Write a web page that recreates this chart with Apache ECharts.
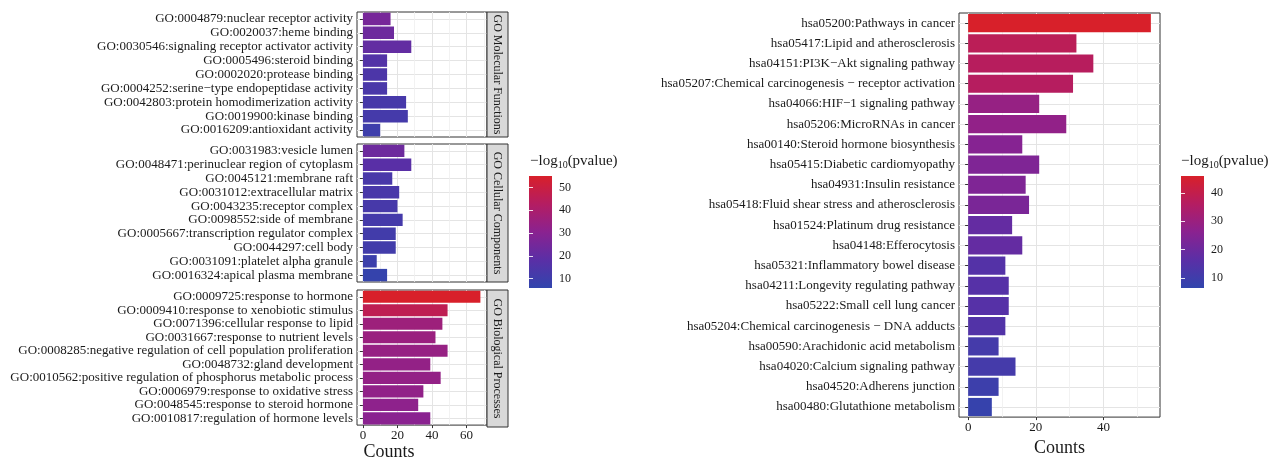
<!DOCTYPE html>
<html>
<head>
<meta charset="utf-8">
<script src="https://cdn.jsdelivr.net/npm/echarts@6/dist/echarts.min.js"></script>
<style>
  html, body { margin: 0; background: #fff; }
  #chart { width: 1272px; height: 462px; }
</style>
</head>
<body>
<div id="chart"></div>
<script>
// GO terms, one facet each
const mfTerms = [
  'GO:0004879:nuclear receptor activity',
  'GO:0020037:heme binding',
  'GO:0030546:signaling receptor activator activity',
  'GO:0005496:steroid binding',
  'GO:0002020:protease binding',
  'GO:0004252:serine\u2212type endopeptidase activity',
  'GO:0042803:protein homodimerization activity',
  'GO:0019900:kinase binding',
  'GO:0016209:antioxidant activity'
];
const mfCounts = [16, 18, 28, 14, 14, 14, 25, 26, 10];
const mfPvals = [25.5, 23, 20.5, 16, 14, 13.3, 12.5, 11.8, 9.8];

const ccTerms = [
  'GO:0031983:vesicle lumen',
  'GO:0048471:perinuclear region of cytoplasm',
  'GO:0045121:membrane raft',
  'GO:0031012:extracellular matrix',
  'GO:0043235:receptor complex',
  'GO:0098552:side of membrane',
  'GO:0005667:transcription regulator complex',
  'GO:0044297:cell body',
  'GO:0031091:platelet alpha granule',
  'GO:0016324:apical plasma membrane'
];
const ccCounts = [24, 28, 17, 21, 20, 23, 19, 19, 8, 14];
const ccPvals = [23, 18, 13, 13, 12.5, 12, 11, 11, 9.3, 7];

const bpTerms = [
  'GO:0009725:response to hormone',
  'GO:0009410:response to xenobiotic stimulus',
  'GO:0071396:cellular response to lipid',
  'GO:0031667:response to nutrient levels',
  'GO:0008285:negative regulation of cell population proliferation',
  'GO:0048732:gland development',
  'GO:0010562:positive regulation of phosphorus metabolic process',
  'GO:0006979:response to oxidative stress',
  'GO:0048545:response to steroid hormone',
  'GO:0010817:regulation of hormone levels'
];
const bpCounts = [68, 49, 46, 42, 49, 39, 45, 35, 32, 39];
const bpPvals = [55, 46, 36, 35, 34, 33, 33, 32.5, 31.5, 30.5];

// KEGG pathways
const keggTerms = [
  'hsa05200:Pathways in cancer',
  'hsa05417:Lipid and atherosclerosis',
  'hsa04151:PI3K\u2212Akt signaling pathway',
  'hsa05207:Chemical carcinogenesis \u2212 receptor activation',
  'hsa04066:HIF\u22121 signaling pathway',
  'hsa05206:MicroRNAs in cancer',
  'hsa00140:Steroid hormone biosynthesis',
  'hsa05415:Diabetic cardiomyopathy',
  'hsa04931:Insulin resistance',
  'hsa05418:Fluid shear stress and atherosclerosis',
  'hsa01524:Platinum drug resistance',
  'hsa04148:Efferocytosis',
  'hsa05321:Inflammatory bowel disease',
  'hsa04211:Longevity regulating pathway',
  'hsa05222:Small cell lung cancer',
  'hsa05204:Chemical carcinogenesis \u2212 DNA adducts',
  'hsa00590:Arachidonic acid metabolism',
  'hsa04020:Calcium signaling pathway',
  'hsa04520:Adherens junction',
  'hsa00480:Glutathione metabolism'
];
const keggCounts = [54, 32, 37, 31, 21, 29, 16, 21, 17, 18, 13, 16, 11, 12, 12, 11, 9, 14, 9, 7];
const keggPvals = [45.9, 38, 37, 36.5, 29, 28, 25.4, 24, 24, 23, 18.3, 18.3, 15, 15.5, 15.5, 14.4, 11.2, 11.2, 9.3, 7.7];

const goCountTicks = [0, 20, 40, 60];
const goMinorTicks = [10, 30, 50, 70];
const keggCountTicks = [0, 20, 40];
const keggMinorTicks = [10, 30, 50];
const goScaleTicks = [10, 20, 30, 40, 50];
const keggScaleTicks = [10, 20, 30, 40];

const goRange = [5.9, 55];
const keggRange = [6.5, 45.9];

const ramp = ['#3145ad', '#5a2fa6', '#8a2290', '#b41d62', '#d8202a'];
const serif = '"Liberation Serif", "DejaVu Serif", serif';
const ink = '#1a1a1a';
const gridLine = '#e4e4e4';

const rows = (terms, counts, pvals) => terms.map((t, i) => [counts[i], t, pvals[i]]);

const panels = [
  { left: 357, top: 12, width: 130, height: 125, terms: mfTerms, data: rows(mfTerms, mfCounts, mfPvals), strip: 'GO Molecular Functions' },
  { left: 357, top: 144, width: 130, height: 138, terms: ccTerms, data: rows(ccTerms, ccCounts, ccPvals), strip: 'GO Cellular Components' },
  { left: 357, top: 290, width: 130, height: 137, terms: bpTerms, data: rows(bpTerms, bpCounts, bpPvals), strip: 'GO Biological Processes' },
  { left: 959, top: 13, width: 201, height: 414, terms: keggTerms, data: rows(keggTerms, keggCounts, keggPvals) }
];

const chart = echarts.init(document.getElementById('chart'));

const grid = panels.map(p => ({
  left: p.left, top: p.top, width: p.width, height: p.height,
  show: true, borderColor: '#333', borderWidth: 1, backgroundColor: '#fff'
}));
// colour bars
const gradient = new echarts.graphic.LinearGradient(0, 0, 0, 1,
  ramp.slice().reverse().map((c, i) => ({ offset: i / (ramp.length - 1), color: c })));
grid.push({ left: 529, top: 176, width: 23, height: 112, show: true, borderWidth: 0, backgroundColor: gradient });
grid.push({ left: 1181, top: 176, width: 23, height: 112, show: true, borderWidth: 0, backgroundColor: gradient });

const xAxis = [];
const yAxis = [];
panels.forEach((p, i) => {
  const kegg = i === 3;
  const showLabels = i >= 2;
  xAxis.push({
    type: 'value', gridIndex: i,
    min: kegg ? -2.7 : -3.42, max: kegg ? 56.7 : 71.82,
    axisLine: { show: false },
    axisTick: { show: showLabels, length: 3, lineStyle: { color: '#333' }, customValues: kegg ? keggCountTicks : goCountTicks },
    axisLabel: { show: showLabels, color: ink, fontFamily: serif, fontSize: 13, margin: 4, customValues: kegg ? keggCountTicks : goCountTicks },
    splitLine: { show: true, lineStyle: { color: gridLine, width: 1 } },
    name: showLabels ? 'Counts' : '',
    nameLocation: 'middle', nameGap: 17,
    nameTextStyle: { fontFamily: serif, fontSize: 18, color: ink, padding: kegg ? 0 : [0, 66, 0, 0] }
  });
  yAxis.push({
    type: 'category', gridIndex: i, data: p.terms, inverse: true,
    axisLine: { show: false },
    axisTick: { show: true, alignWithLabel: true, interval: 0, length: 3, lineStyle: { color: '#333' } },
    axisLabel: { color: ink, fontFamily: serif, fontSize: 13, margin: 4, interval: 0 },
    splitLine: { show: true, alignWithLabel: true, interval: 0, lineStyle: { color: gridLine, width: 1 } }
  });
});
// minor vertical grid lines
panels.forEach((p, i) => {
  const kegg = i === 3;
  xAxis.push({
    type: 'value', gridIndex: i,
    min: kegg ? -2.7 : -3.42, max: kegg ? 56.7 : 71.82,
    axisLine: { show: false }, axisLabel: { show: false },
    axisTick: { show: false, customValues: kegg ? keggMinorTicks : goMinorTicks },
    splitLine: { show: true, lineStyle: { color: '#efefef', width: 0.8 } }
  });
});
// colour bar axes
[[4, goRange, goScaleTicks], [5, keggRange, keggScaleTicks]].forEach(([g, r, ticks]) => {
  xAxis.push({ type: 'value', gridIndex: g, min: 0, max: 1, show: false });
  yAxis.push({
    type: 'value', gridIndex: g, min: r[0], max: r[1], position: 'right',
    axisLine: { show: false }, splitLine: { show: false },
    axisTick: { show: true, inside: true, length: 4, lineStyle: { color: 'rgba(255,255,255,0.85)' }, customValues: ticks },
    axisLabel: { color: ink, fontFamily: serif, fontSize: 12, margin: 7, customValues: ticks }
  });
  yAxis.push({
    type: 'value', gridIndex: g, min: r[0], max: r[1], position: 'left',
    axisLine: { show: false }, splitLine: { show: false }, axisLabel: { show: false },
    axisTick: { show: true, inside: true, length: 4, lineStyle: { color: 'rgba(255,255,255,0.85)' }, customValues: ticks }
  });
});

const series = panels.map((p, i) => ({
  type: 'bar', xAxisIndex: i, yAxisIndex: i,
  data: p.data, encode: { x: 0, y: 1 },
  barCategoryGap: '10%', silent: true
}));

const graphic = [];
panels.slice(0, 3).forEach(p => {
  graphic.push({
    type: 'rect', shape: { x: p.left + p.width, y: p.top, width: 21, height: p.height },
    style: { fill: '#d9d9d9', stroke: '#333', lineWidth: 1 }, z: 10
  });
  graphic.push({
    type: 'text', x: p.left + p.width + 10.5, y: p.top + p.height / 2, rotation: -Math.PI / 2,
    style: { text: p.strip, fill: ink, font: '12px ' + serif, align: 'center', verticalAlign: 'middle' }, z: 11
  });
});
[530, 1181].forEach(x => {
  graphic.push({
    type: 'text', x: x, y: 152,
    style: {
      text: '{a|\u2212log}{b|10}{a|(pvalue)}',
      rich: {
        a: { fontFamily: serif, fontSize: 15, fill: ink, lineHeight: 18 },
        b: { fontFamily: serif, fontSize: 10, fill: ink, lineHeight: 18, verticalAlign: 'bottom' }
      }
    }
  });
});

chart.setOption({
  animation: false,
  grid, xAxis, yAxis, series, graphic,
  visualMap: [
    { type: 'continuous', show: false, min: goRange[0], max: goRange[1], dimension: 2, seriesIndex: [0, 1, 2], inRange: { color: ramp } },
    { type: 'continuous', show: false, min: keggRange[0], max: keggRange[1], dimension: 2, seriesIndex: [3], inRange: { color: ramp } }
  ]
});
</script>
</body>
</html>
